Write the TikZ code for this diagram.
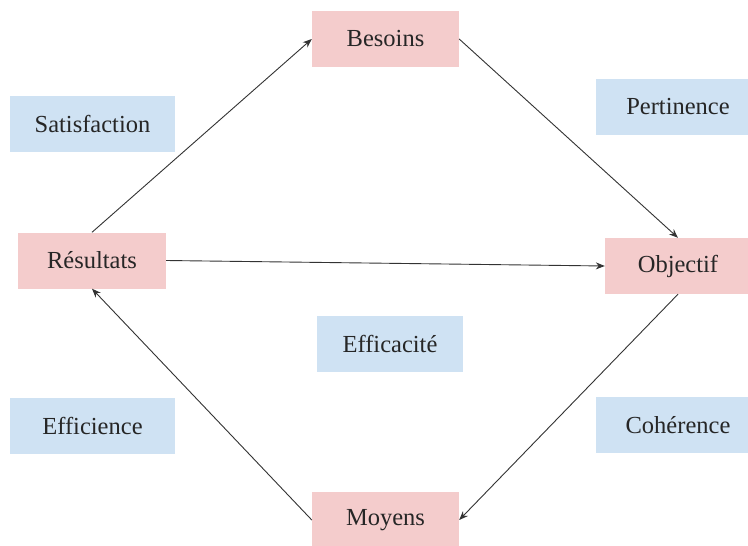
\documentclass[tikz,border=0pt]{standalone}
\usepackage{fontspec}
\setmainfont{LiberationSerif}[Extension=.ttf,UprightFont=*-Regular,BoldFont=*-Bold]
\usetikzlibrary{arrows.meta}
\definecolor{stagepink}{HTML}{F4CCCC}
\definecolor{critblue}{HTML}{CFE2F3}
\definecolor{linegray}{HTML}{333333}
\begin{document}
\begin{tikzpicture}[x=1pt,y=-1pt,
  box/.style={inner sep=0pt,minimum height=56pt,font=\fontsize{24.5}{28}\selectfont,text=black!85},
  stage/.style={box,fill=stagepink},
  crit/.style={box,fill=critblue},
  link/.style={draw=linegray,line width=0.9pt,-{Stealth[length=9pt,width=7pt]}}]
\useasboundingbox (0,0) rectangle (748,546);
\fill[white] (0,0) rectangle (748,546);
\begin{scope}
\clip (0,0) rectangle (748,546);
% cycle stages
\node[stage,minimum width=147pt] (bes) at (385.5,39) {Besoins};
\node[stage,minimum width=148pt] (res) at (92,260.5) {Résultats};
\node[stage,minimum width=146pt] (obj) at (678,266) {Objectif};
\node[stage,minimum width=147pt] (moy) at (385.5,520) {Moyens};
% evaluation criteria
\node[crit,minimum width=165pt] (sat) at (92.5,124) {Satisfaction};
\node[crit,minimum width=164pt] (per) at (678,107) {Pertinence};
\node[crit,minimum width=146pt] (eff) at (390,344) {Efficacité};
\node[crit,minimum width=165pt] (efn) at (92.5,425.5) {Efficience};
\node[crit,minimum width=164pt] (coh) at (678,425) {Cohérence};
% connectors
\draw[link] (res.north) -- (bes.west);
\draw[link] (bes.east) -- (obj.north);
\draw[link] (res.east) -- (obj.west);
\draw[link] (obj.south) -- (moy.east);
\draw[link] (moy.west) -- (res.south);
\end{scope}
\end{tikzpicture}
\end{document}
